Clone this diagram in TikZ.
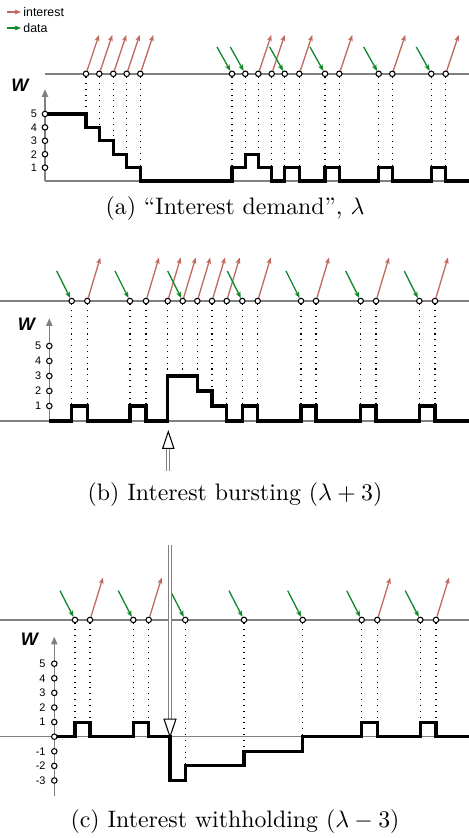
\documentclass[tikz,border=0pt]{standalone}
\usepackage{fontspec}
\newfontfamily\helv{Liberation Sans}
\usetikzlibrary{arrows.meta}
\definecolor{intred}{RGB}{192,106,96}
\definecolor{datagreen}{RGB}{18,136,42}
\definecolor{linegray}{RGB}{128,128,128}

\begin{document}
\begin{tikzpicture}[
    x=0.42pt, y=-0.42pt,
    timeline/.style={draw=linegray, line width=0.6pt},
    waxis/.style={draw=linegray, line width=0.55pt, -{Triangle[length=3.2pt,width=2.6pt]}},
    wstep/.style={draw=black, line width=1.3pt},
    event/.style={circle, draw=black, fill=white, line width=0.45pt, inner sep=0pt, minimum size=2.3pt},
    drop/.style={draw=black, line width=0.45pt, dotted},
    interest/.style={draw=intred, line width=0.55pt, -{Stealth[length=2.6pt,width=2pt,inset=0.6pt]}},
    data/.style={draw=datagreen, line width=0.55pt, -{Stealth[length=2.6pt,width=2pt,inset=0.6pt]}},
    wlabel/.style={font=\helv\bfseries\itshape\fontsize{7.6}{8}\selectfont},
    ticklabel/.style={anchor=east, inner sep=0pt, font=\helv\fontsize{4.6}{5}\selectfont},
    legend/.style={anchor=west, inner sep=0.8pt, font=\helv\fontsize{5.2}{6}\selectfont},
    caption/.style={font=\fontsize{10}{12}\selectfont},
    shaft/.style={draw=gray, line width=0.4pt, double=white, double distance=0.9pt},
    head/.style={draw=black, fill=white, line width=0.45pt}
]
\useasboundingbox (0,0) rectangle (469,838);

\coordinate (li-s) at (7,12);
\node[legend] (li) at (21,12) {interest};
\draw[interest] (li-s) -- (li);
\coordinate (ld-s) at (7,28);
\node[legend] (ld) at (21,28) {data};
\draw[data] (ld-s) -- (ld);

\begin{scope}[shift={(0,181)}, y=5.628pt]
  \draw[timeline] (45,8) -- (469,8);
  \draw[timeline] (45,0) -- (469,0);
  \draw[waxis] (45,0) -- (45,6.85);
  \node[wlabel] (wa) at (20,7.16) {W};
  \draw[wstep] (45,5) -| (86,4) -| (99.3,3) -| (113.3,2) -| (126.7,1) -| (140.3,0)
    -| (232,1) -| (245.3,2) -| (258.3,1) -| (271.7,0) -| (284.7,1) -| (299.3,0)
    -| (325,1) -| (339.3,0) -| (378.7,1) -| (392.3,0) -| (431.3,1) -| (445.7,0) -- (469,0);
  \foreach \v in {1,...,5}
    \node[event] (ya\v) at (45,\v) {} node[ticklabel] (ya\v-l) at (37.5,\v) {\v};
  \foreach \x/\t/\l [count=\k] in {86/1/5, 99.3/1/4, 113.3/1/3, 126.7/1/2, 140.3/1/1,
      232/2/1, 245.3/2/2, 258.3/1/2, 271.7/1/1, 284.7/2/1, 299.3/1/1, 325/2/1,
      339.3/1/1, 378.7/2/1, 392.3/1/1, 431.3/2/1, 445.7/1/1}{
    \node[event] (a\k) at (\x,8) {};
    \coordinate (a\k-w) at (\x,\l);
    \draw[drop] (a\k) -- (a\k-w);
    \ifodd\t \coordinate (a\k-i) at (\x+13,10.9); \draw[interest] (a\k) -- (a\k-i); \fi
    \ifnum\t>1 \coordinate (a\k-d) at (\x-15,10); \draw[data] (a\k-d) -- (a\k); \fi
  }
\end{scope}
\node[caption] (cap-a) at (235,209) {(a) ``Interest demand'', $\lambda$};

\begin{scope}[shift={(0,421)}, y=6.3pt]
  \draw[timeline] (0,8) -- (469,8);
  \draw[timeline] (0,0) -- (469,0);
  \draw[waxis] (49.3,0) -- (49.3,6.85);
  \node[wlabel] (wb) at (26.5,6.47) {W};
  \draw[wstep] (49.3,0) -| (71.7,1) -| (87.3,0) -| (130,1) -| (146,0) -| (167.7,3)
    -| (197.3,2) -| (212,1) -| (226.7,0) -| (242.3,1) -| (257.7,0) -| (301,1)
    -| (316,0) -| (360.7,1) -| (376,0) -| (419.3,1) -| (435,0) -- (469,0);
  \foreach \v in {1,...,5}
    \node[event] (yb\v) at (49.3,\v) {} node[ticklabel] (yb\v-l) at (41.8,\v) {\v};
  \foreach \x/\t/\l [count=\k] in {71.7/2/1, 87.3/1/1, 130/2/1, 146/1/1, 167.7/1/3,
      182.7/3/3, 197.3/1/3, 212/1/2, 226.7/1/1, 242.3/2/1, 257.7/1/1, 301/2/1,
      316/1/1, 360.7/2/1, 376/1/1, 419.3/2/1, 435/1/1}{
    \node[event] (b\k) at (\x,8) {};
    \coordinate (b\k-w) at (\x,\l);
    \draw[drop] (b\k) -- (b\k-w);
    \ifodd\t \coordinate (b\k-i) at (\x+13,10.9); \draw[interest] (b\k) -- (b\k-i); \fi
    \ifnum\t>1 \coordinate (b\k-d) at (\x-15,10); \draw[data] (b\k-d) -- (b\k); \fi
  }
  \coordinate (burst-tip) at (168.3,-0.71);
  \coordinate (burst-neck) at (168.3,-1.82);
  \coordinate (burst-tail) at (168.3,-3.31);
  \draw[shaft] (burst-tail) -- (burst-neck);
  \draw[head] (burst-tip) -- ([xshift=-2.35pt]burst-neck) -- ([xshift=2.35pt]burst-neck) -- cycle;
\end{scope}
\node[caption] (cap-b) at (235,495) {(b) Interest bursting $(\lambda+3)$};

\begin{scope}[shift={(0,736.7)}, y=6.132pt]
  \draw[timeline] (0,8) -- (469,8);
  \draw[timeline] (0,0) -- (469,0);
  \draw[waxis] (54.3,-4.05) -- (54.3,6.85);
  \node[wlabel] (wc) at (29.5,6.7) {W};
  \draw[wstep] (54.3,0) -| (75,1) -| (90,0) -| (133.3,1) -| (148.7,0) -| (170,-3)
    -| (185.3,-2) -| (244,-1) -| (302.7,0) -| (361.7,1) -| (377.3,0) -| (420.3,1)
    -| (436,0) -- (469,0);
  \foreach \v in {-3,...,5}
    \node[event] (yc\v) at (54.3,\v) {};
  \foreach \v in {-3,-2,-1,1,2,3,4,5}
    \node[ticklabel] (yc\v-l) at (46,\v) {\v};
  \foreach \x/\t/\l [count=\k] in {75/2/1, 90/1/1, 133.3/2/1, 148.7/1/1, 185.3/2/-2,
      244/2/-1, 302.7/2/0, 361.7/2/1, 377.3/1/1, 420.3/2/1, 436/1/1}{
    \node[event] (c\k) at (\x,8) {};
    \coordinate (c\k-w) at (\x,\l);
    \draw[drop] (c\k) -- (c\k-w);
    \ifodd\t \coordinate (c\k-i) at (\x+13,10.9); \draw[interest] (c\k) -- (c\k-i); \fi
    \ifnum\t>1 \coordinate (c\k-d) at (\x-15,10); \draw[data] (c\k-d) -- (c\k); \fi
  }
  \coordinate (hold-tip) at (170,0);
  \coordinate (hold-neck) at (170,1.2);
  \coordinate (hold-tail) at (170,13.1);
  \draw[shaft] (hold-tail) -- (hold-neck);
  \draw[head] (hold-tip) -- ([xshift=-2.5pt]hold-neck) -- ([xshift=2.5pt]hold-neck) -- cycle;
\end{scope}
\node[caption] (cap-c) at (235,822) {(c) Interest withholding $(\lambda-3)$};

\end{tikzpicture}
\end{document}
